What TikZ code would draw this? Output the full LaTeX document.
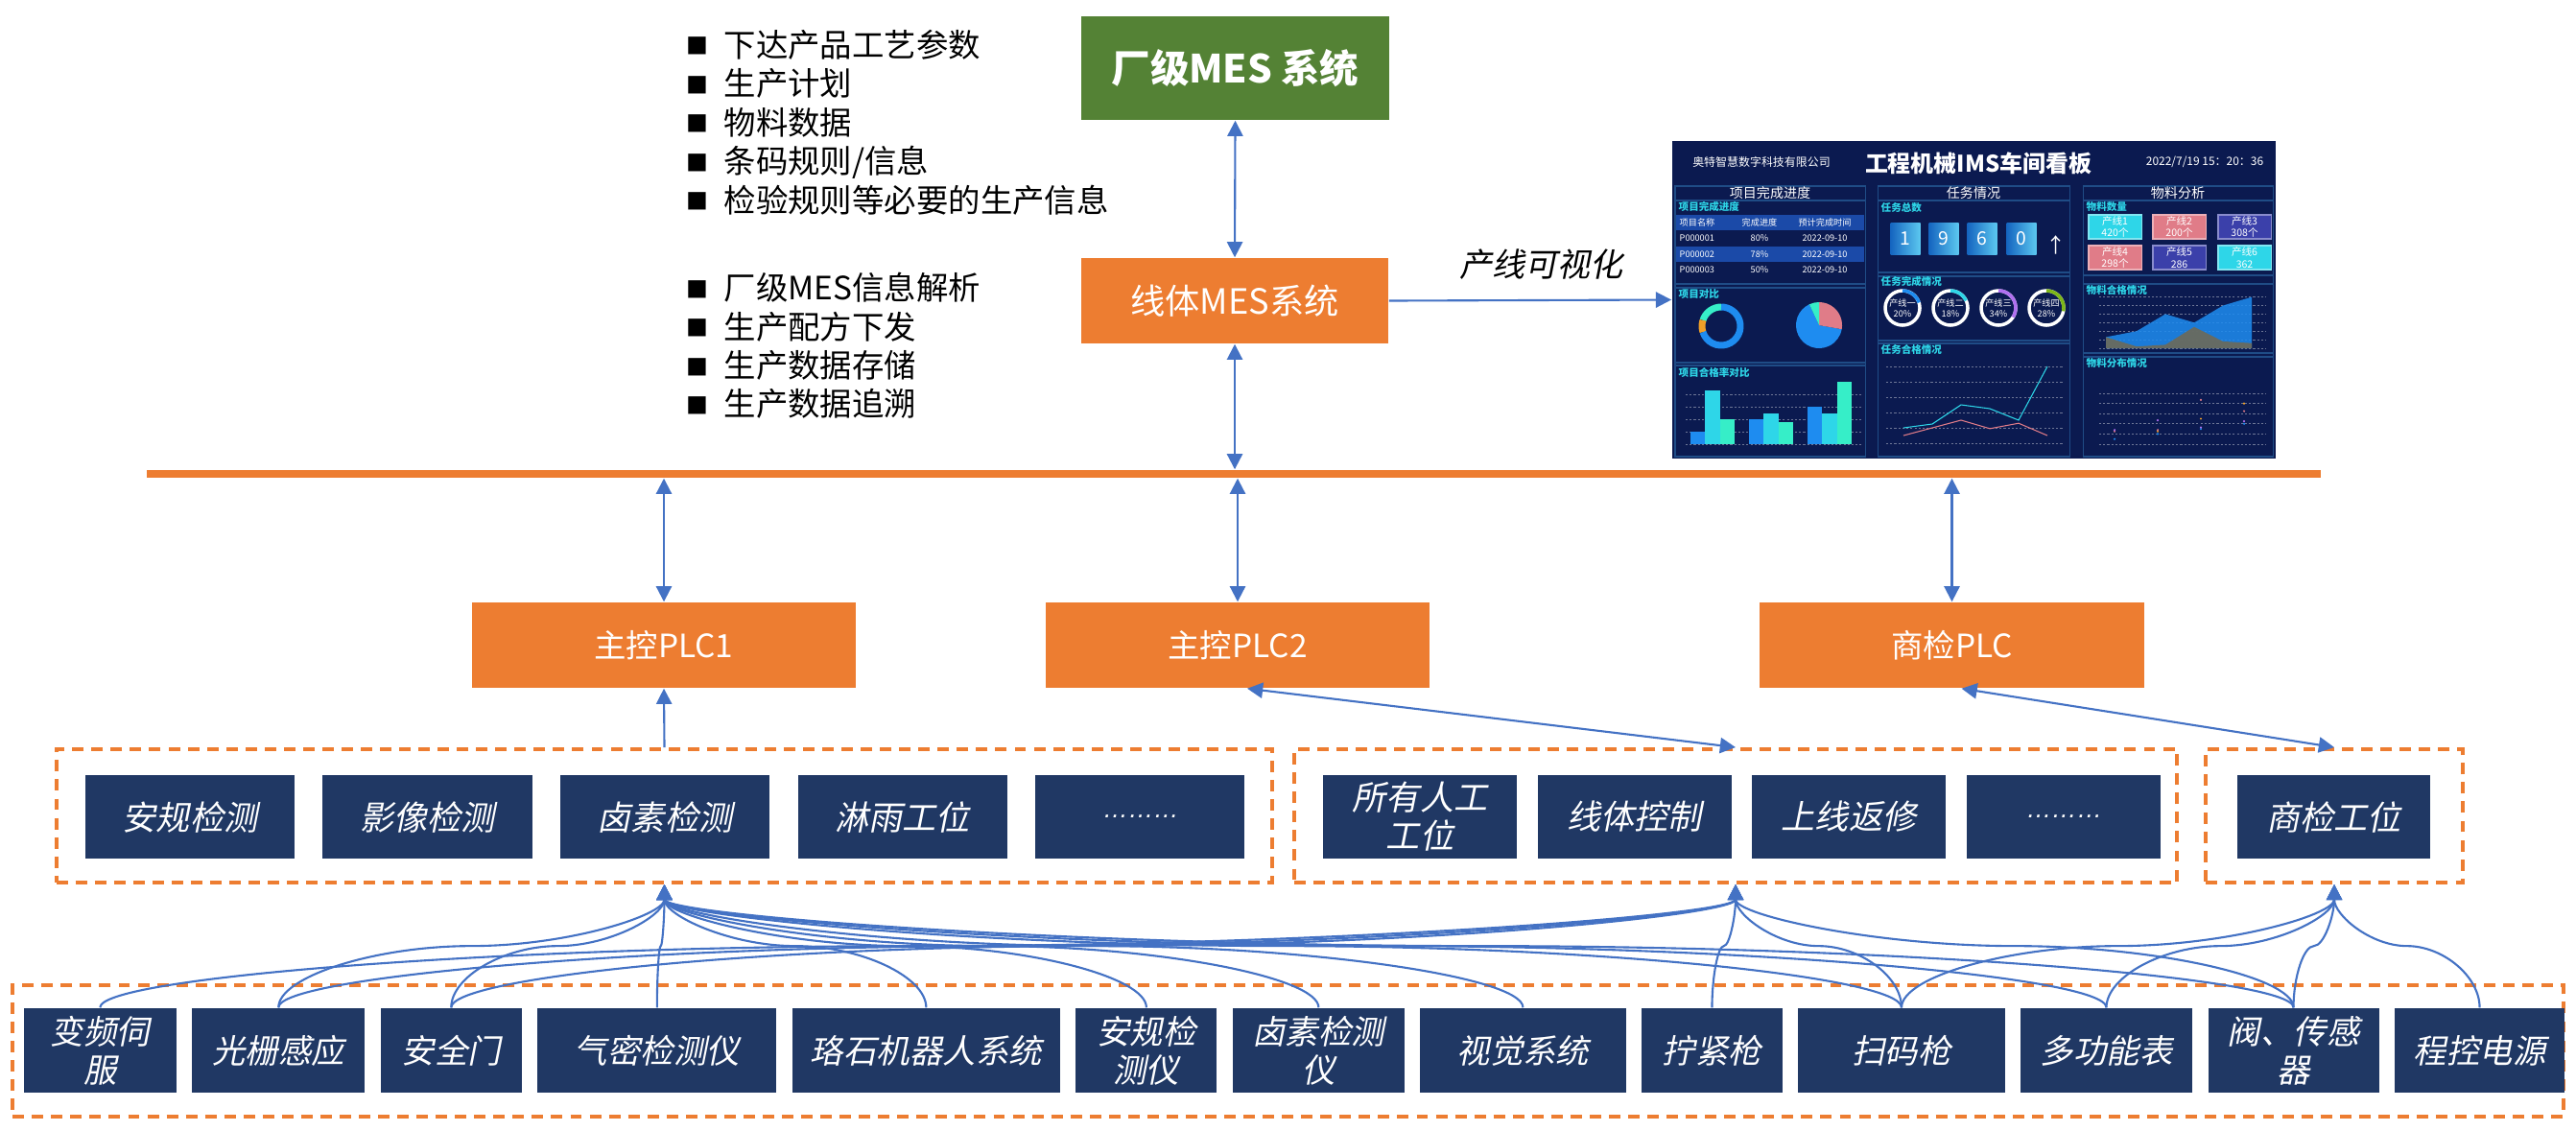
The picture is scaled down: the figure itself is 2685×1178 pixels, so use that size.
\documentclass[tikz,border=0pt]{standalone}
\usepackage{fontspec}
\setmainfont{Noto Sans CJK SC}
\newfontfamily\slantcjk[FakeSlant=0.2]{Noto Sans CJK SC}
\newfontfamily\slantlat[FakeSlant=0.2]{Liberation Sans}
\usetikzlibrary{arrows.meta, positioning, calc}
\definecolor{mesgreen}{HTML}{548235}
\definecolor{mesorange}{HTML}{ED7D31}
\definecolor{stnavy}{HTML}{203864}
\definecolor{linkblue}{HTML}{4472C4}
\definecolor{boardbg}{HTML}{0B1A50}
\definecolor{boardline}{HTML}{1F4C86}
\definecolor{boardcyan}{HTML}{2ED6E8}
\definecolor{boardblue}{HTML}{1E8CF0}
\definecolor{boardteal}{HTML}{36EEC8}
\definecolor{boardpink}{HTML}{E07C88}
\definecolor{boardindigo}{HTML}{3B40AA}
\definecolor{boardorange}{HTML}{F0A028}
\definecolor{boardpurple}{HTML}{B070F0}
\definecolor{boardgreen}{HTML}{7CB518}
\definecolor{boardgray}{HTML}{6E6A58}
\definecolor{tablerow}{HTML}{1B4AA8}
\definecolor{tiledark}{HTML}{1565C0}
\definecolor{tilelight}{HTML}{5CC8F0}
\newcommand\sqbullet{\raisebox{0.7pt}{\fontsize{6.5pt}{6.5pt}\selectfont ■}\hspace{4.6pt}}

\tikzset{
  mesbox/.style={
    rectangle, fill=#1, text=white, align=center,
    minimum width=3.2cm, inner sep=0pt
  },
  plcbox/.style={
    rectangle, fill=mesorange, text=white,
    minimum width=4cm, minimum height=0.89cm, inner sep=0pt,
    font=\fontsize{9.5pt}{11pt}\selectfont
  },
  stbox/.style={
    rectangle, fill=stnavy, text=white, align=center,
    minimum height=0.87cm, inner sep=0pt,
    font=\fontsize{10pt}{11.4pt}\slantcjk
  },
  devbox/.style={
    rectangle, fill=stnavy, text=white, align=center,
    minimum height=0.88cm, inner sep=0pt,
    font=\fontsize{9.8pt}{11.4pt}\slantcjk
  },
  grpframe/.style={
    rectangle, draw=mesorange, line width=1.1pt,
    dash pattern=on 3.4pt off 2.3pt, inner sep=0pt
  },
  listtxt/.style={
    align=left, inner sep=0pt, anchor=west,
    font=\fontsize{9.5pt}{11.5pt}\selectfont
  },
  link/.style={draw=linkblue, line width=0.6pt,
    -{Triangle[length=4.6pt,width=4.6pt]}},
  dlink/.style={link,
    {Triangle[length=4.6pt,width=4.6pt]}-{Triangle[length=4.6pt,width=4.6pt]}},
  sconn/.style={to path={let \p1=(\tikztostart), \p2=(\tikztotarget) in
    .. controls (\x1,{0.75*\y1+0.25*\y2}) and ({0.75*\x1+0.25*\x2},{0.5*\y1+0.5*\y2})
    .. ({0.5*\x1+0.5*\x2},{0.5*\y1+0.5*\y2})
    .. controls ({0.25*\x1+0.75*\x2},{0.5*\y1+0.5*\y2}) and (\x2,{0.25*\y1+0.75*\y2})
    .. (\tikztotarget)}},
  bdpanel/.style={draw=boardline, line width=0.3pt},
  bdhead/.style={text=white, inner sep=0pt,
    font=\fontsize{4pt}{4.5pt}\selectfont},
  bdsub/.style={text=boardcyan, inner sep=0pt, anchor=west,
    font=\fontsize{3pt}{3.5pt}\selectfont\bfseries},
  bdtiny/.style={text=white, inner sep=0pt,
    font=\fontsize{2.6pt}{3pt}\selectfont},
  bdgrid/.style={draw=white!40!boardbg, line width=0.2pt,
    dash pattern=on 0.6pt off 0.6pt},
  bdtile/.style={rectangle, fill=#1, draw=white!40!#1, line width=0.3pt,
    minimum width=0.55cm, minimum height=0.25cm, inner sep=0pt,
    text=white, align=center, font=\fontsize{3pt}{3.6pt}\selectfont}
}

\begin{document}
\begin{tikzpicture}[x=0.01cm, y=-0.01cm]
\useasboundingbox (0,0) rectangle (2685,1178);

% MES levels
\node[mesbox=mesgreen, minimum height=1.08cm,
      font=\fontsize{11.5pt}{13pt}\selectfont\bfseries] (fmes) at (1287.5,71)
  {厂级MES 系统};
\node[mesbox=mesorange, minimum height=0.89cm,
      font=\fontsize{10.3pt}{12pt}\selectfont] (lmes) at (1287,313.5)
  {线体MES系统};
\node[listtxt] (plist) at (715,127.5)
  {\sqbullet 下达产品工艺参数\\ \sqbullet 生产计划\\ \sqbullet 物料数据\\
   \sqbullet 条码规则/信息\\ \sqbullet 检验规则等必要的生产信息};
\node[listtxt] (flist) at (715,360.5)
  {\sqbullet 厂级MES信息解析\\ \sqbullet 生产配方下发\\
   \sqbullet 生产数据存储\\ \sqbullet 生产数据追溯};

% dashboard screenshot
\node[rectangle, fill=boardbg, minimum width=6.29cm, minimum height=3.31cm,
      inner sep=0pt] (board) at (2057.5,312.5) {};
\node[text=white, inner sep=0pt, font=\fontsize{6.8pt}{7pt}\selectfont\bfseries]
  (btitle) at (2062,170) {工程机械IMS车间看板};
\node[bdhead, font=\fontsize{3.4pt}{4pt}\selectfont] (bcomp) at (1836,169)
  {奥特智慧数字科技有限公司};
\node[bdhead, font=\fontsize{3.4pt}{4pt}\selectfont] (bdate) at (2298,169)
  {2022/7/19 15：20：36};
\foreach \xa/\xb/\hd [count=\i] in {1746/1944/项目完成进度,
    1957/2157/任务情况, 2171/2369/物料分析}{%
  \draw[bdpanel] (\xa,194) rectangle (\xb,476);
  \node[bdhead] (bhd\i) at ({(\xa+\xb)/2},201) {\hd};}
\foreach \xa/\xb/\ya/\yb in {1746/1944/209/296, 1746/1944/300/378,
    1746/1944/381/476, 1957/2157/209/284, 1957/2157/288/355,
    1957/2157/358/476, 2171/2369/209/287, 2171/2369/296/368,
    2171/2369/372/476}{%
  \draw[bdpanel] (\xa,\ya) rectangle (\xb,\yb);}
\foreach \x/\y/\t [count=\i] in {1749/215/项目完成进度, 1749/307/项目对比,
    1749/388/项目合格率对比, 1960/216/任务总数, 1960/293/任务完成情况,
    1960/364/任务合格情况, 2174/216/物料数量, 2174/302/物料合格情况,
    2174/378/物料分布情况}{%
  \node[bdsub] (bsub\i) at (\x,\y) {\t};}
% table
\fill[tablerow] (1747,224) rectangle (1943,240);
\fill[tablerow] (1747,257) rectangle (1943,273);
\foreach \y/\a/\b/\c [count=\i] in {232/项目名称/完成进度/预计完成时间,
    248/P000001/80\%/2022-09-10, 265/P000002/78\%/2022-09-10,
    281/P000003/50\%/2022-09-10}{%
  \node[bdtiny, anchor=west] (tra\i) at (1750,\y) {\a};
  \node[bdtiny] (trb\i) at (1834,\y) {\b};
  \node[bdtiny] (trc\i) at (1902,\y) {\c};}
% donut and pie
\coordinate (dn) at (1794,340);
\draw[boardteal, line width=0.07cm] (dn) ++(90:0.2cm)
  arc[start angle=90, end angle=162, radius=0.2cm];
\draw[boardorange, line width=0.07cm] (dn) ++(162:0.2cm)
  arc[start angle=162, end angle=198, radius=0.2cm];
\draw[boardblue, line width=0.07cm] (dn) ++(198:0.2cm)
  arc[start angle=198, end angle=450, radius=0.2cm];
\coordinate (pc) at (1896,339);
\fill[boardblue] (pc) -- ++(115:0.24cm)
  arc[start angle=115, end angle=350, radius=0.24cm] -- cycle;
\fill[boardpink] (pc) -- ++(-10:0.24cm)
  arc[start angle=-10, end angle=90, radius=0.24cm] -- cycle;
\fill[boardteal] (pc) -- ++(90:0.24cm)
  arc[start angle=90, end angle=115, radius=0.24cm] -- cycle;
% bars
\foreach \g in {0,...,4}
  \draw[bdgrid] (1757,{463-13*\g}) -- (1940,{463-13*\g});
\foreach \gx/\va/\vb/\vc in {1785/10/43/20, 1846/20/25/18, 1907/30/25/50}{%
  \fill[boardblue] (\gx-23.4,463) rectangle (\gx-7.8,463-1.3*\va);
  \fill[boardcyan] (\gx-7.8,463) rectangle (\gx+7.8,463-1.3*\vb);
  \fill[boardteal] (\gx+7.8,463) rectangle (\gx+23.4,463-1.3*\vc);}
% task tiles
\foreach \x/\n [count=\i] in {1986/1, 2026/9, 2066/6, 2107/0}{%
  \node[rectangle, minimum width=0.31cm, minimum height=0.33cm, inner sep=0pt,
        left color=tiledark, right color=tilelight, text=white,
        font=\fontsize{5.5pt}{6pt}\selectfont] (tile\i) at (\x,248.5) {\n};}
\node[text=white, inner sep=0pt, font=\fontsize{6pt}{6pt}\selectfont]
  (tup) at (2143,255) {↑};
% rings
\foreach \x/\t/\pc/\c [count=\i] in {1983/产线一/20/boardblue,
    2033/产线二/18/boardcyan, 2083/产线三/34/boardpurple,
    2133/产线四/28/boardgreen}{%
  \draw[white, line width=0.035cm] (\x,321) circle[radius=0.18cm];
  \draw[\c, line width=0.035cm] (\x,321) ++(90:0.18cm)
    arc[start angle=90, end angle=90-3.6*\pc, radius=0.18cm];
  \node[bdtiny, align=center] (ring\i) at (\x,321) {\t\\\pc\%};}
% line chart
\foreach \g in {0,...,5}
  \draw[bdgrid] (1966,{462-16*\g}) -- (2150,{462-16*\g});
\draw[boardcyan, line width=0.3pt] plot coordinates {(1984,446) (2014,442)
  (2044,422) (2074,426) (2104,438) (2134,382)};
\draw[boardpink, line width=0.3pt] plot coordinates {(1984,454) (2014,446)
  (2044,438) (2074,446.8) (2104,441.2) (2134,454)};
% material tiles
\foreach \x/\y/\c/\t [count=\i] in {2204.5/236.5/boardcyan/产线1\\420个,
    2271.5/236.5/boardpink/产线2\\200个, 2339.5/236.5/boardindigo/产线3\\308个,
    2204.5/268.5/boardpink/产线4\\298个, 2271.5/268.5/boardindigo/产线5\\286,
    2339.5/268.5/boardcyan/产线6\\362}{%
  \node[bdtile=\c] (mt\i) at (\x,\y) {\t};}
% area chart
\foreach \g in {0,...,6}
  \draw[bdgrid] (2188,{363-8.9*\g}) -- (2362,{363-8.9*\g});
\fill[boardblue, opacity=0.85] (2195,363) -- plot coordinates {(2195,351.4)
  (2227,345.2) (2257,327.4) (2287,336.3) (2317,318.5) (2347,309.6)}
  -- (2347,363) -- cycle;
\fill[boardgray, opacity=0.9] (2195,363) -- plot coordinates {(2195,351.4)
  (2227,361.2) (2257,359.4) (2287,340.8) (2317,355.9) (2347,357.7)}
  -- (2347,363) -- cycle;
% scatter
\foreach \g in {0,...,5}
  \draw[bdgrid] (2188,{463-10.6*\g}) -- (2362,{463-10.6*\g});
\foreach \x/\v/\c in {2204/10/boardblue, 2204/25/boardpink, 2204/28/boardpurple,
    2249/20/boardblue, 2249/25/boardorange, 2249/28/boardpink,
    2249/47/boardpurple, 2294/30/boardblue, 2294/50/boardorange,
    2294/87/boardpink, 2294/33/boardpurple, 2339/40/boardblue,
    2339/80/boardorange, 2339/65/boardpink, 2339/45/boardpurple}{%
  \fill[\c] (\x,463-0.53*\v) circle[radius=0.012cm];}

% bus and PLCs
\node[rectangle, fill=mesorange, minimum width=22.64cm, minimum height=0.08cm,
      inner sep=0pt] (bus) at (1286,494) {};
\node[plcbox] (plc1) at (692,672.5) {主控PLC1};
\node[plcbox] (plc2) at (1290,672.5) {主控PLC2};
\node[plcbox] (plc3) at (2034.5,672.5) {商检PLC};

% station groups
\node[grpframe, minimum width=12.67cm, minimum height=1.39cm] (g1) at (692.5,850.5) {};
\node[grpframe, minimum width=9.20cm, minimum height=1.39cm] (g2) at (1809,850.5) {};
\node[grpframe, minimum width=2.68cm, minimum height=1.39cm] (g3) at (2433,850.5) {};
\node[stbox, minimum width=2.18cm] (s1) at (198,851.5) {安规检测};
\node[stbox, minimum width=2.18cm, right=0.28cm of s1] (s2) {影像检测};
\node[stbox, minimum width=2.18cm, right=0.28cm of s2] (s3) {卤素检测};
\node[stbox, minimum width=2.18cm, right=0.28cm of s3] (s4) {淋雨工位};
\node[stbox, minimum width=2.18cm, right=0.28cm of s4] (s5)
  {\fontsize{7.5pt}{9pt}\slantlat ………};
\node[stbox, minimum width=2.02cm] (t1) at (1480,851.5) {所有人工\\工位};
\node[stbox, minimum width=2.02cm, right=0.2cm of t1] (t2) {线体控制};
\node[stbox, minimum width=2.02cm, right=0.2cm of t2] (t3) {上线返修};
\node[stbox, minimum width=2.02cm, right=0.2cm of t3] (t4)
  {\fontsize{7.5pt}{9pt}\slantlat ………};
\node[stbox, minimum width=2.01cm] (u1) at (2432.5,851.5) {商检工位};

% devices
\node[grpframe, minimum width=26.57cm, minimum height=1.37cm] (devs) at (1342.5,1095.5) {};
\node[devbox, minimum width=1.59cm, anchor=west] (d1) at (24,1095) {变频伺\\服};
\node[devbox, minimum width=1.80cm, right=0.15cm of d1] (d2) {光栅感应};
\node[devbox, minimum width=1.47cm, right=0.15cm of d2] (d3) {安全门};
\node[devbox, minimum width=2.49cm, right=0.15cm of d3] (d4) {气密检测仪};
\node[devbox, minimum width=2.79cm, right=0.15cm of d4] (d5) {珞石机器人系统};
\node[devbox, minimum width=1.47cm, right=0.15cm of d5] (d6) {安规检\\测仪};
\node[devbox, minimum width=1.79cm, right=0.15cm of d6] (d7) {卤素检测\\仪};
\node[devbox, minimum width=2.14cm, right=0.15cm of d7] (d8) {视觉系统};
\node[devbox, minimum width=1.47cm, right=0.15cm of d8] (d9) {拧紧枪};
\node[devbox, minimum width=2.15cm, right=0.15cm of d9] (d10) {扫码枪};
\node[devbox, minimum width=1.79cm, right=0.15cm of d10] (d11) {多功能表};
\node[devbox, minimum width=1.78cm, right=0.15cm of d11] (d12) {阀、传感\\器};
\node[devbox, minimum width=1.77cm, right=0.15cm of d12] (d13) {程控电源};

% connectors
\draw[dlink] (fmes.south) -- (lmes.north);
\draw[dlink] (lmes.south) -- (lmes.south |- bus.north);
\draw[link] (lmes.east) -- (board.west)
  node[pos=0.54, above=0.2cm, inner sep=0pt,
       font=\fontsize{9.7pt}{11pt}\slantcjk] (vislbl) {产线可视化};
\foreach \p in {plc1,plc2,plc3}{%
  \draw[dlink] (\p.north |- bus.south) -- (\p.north);}
\draw[link] (g1.north) -- (plc1.south);
\draw[dlink] ([xshift=0.1cm]plc2.south) -- (g2.north);
\draw[dlink] ([xshift=0.1cm]plc3.south) -- (g3.north);
\foreach \d in {d2,d3,d4,d5,d6,d7,d8,d10,d11,d12}{%
  \draw[link] (\d.north) to[sconn] (g1.south);}
\foreach \d in {d1,d2,d3,d9,d10,d12}{%
  \draw[link] (\d.north) to[sconn] (g2.south);}
\foreach \d in {d10,d11,d12,d13}{%
  \draw[link] (\d.north) to[sconn] (g3.south);}
\end{tikzpicture}
\end{document}
